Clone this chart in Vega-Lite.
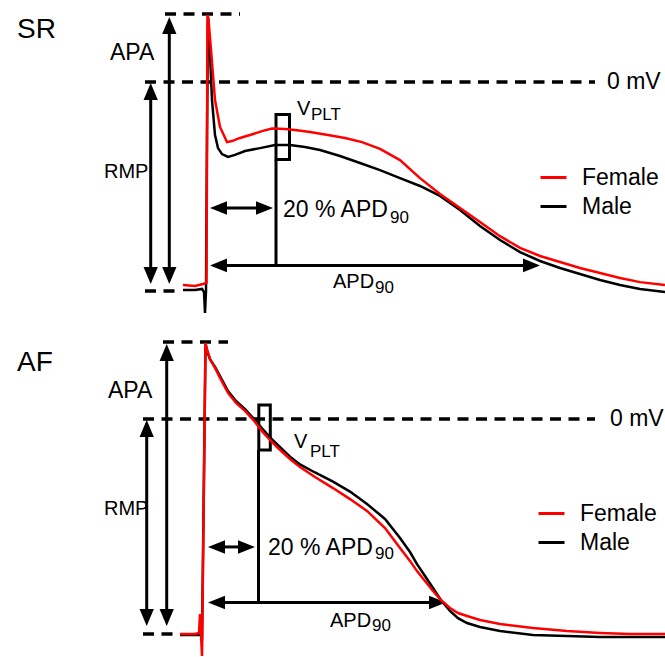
{
  "$schema": "https://vega.github.io/schema/vega-lite/v6.json",
  "padding": 0,
  "spacing": 17,
  "background": "white",
  "config": {
    "view": {"stroke": null},
    "text": {"font": "Liberation Sans", "color": "black"}
  },
  "resolve": {"scale": {"color": "independent"}, "legend": {"color": "independent"}},
  "datasets": {
    "sr_curve": [
      {"sex": "Male", "t": -22, "v": -79.6}, {"sex": "Male", "t": -10, "v": -79.6}, {"sex": "Male", "t": -3, "v": -79.2},
      {"sex": "Male", "t": -1, "v": -80.4}, {"sex": "Male", "t": 0, "v": -88.4}, {"sex": "Male", "t": 1, "v": -80.0},
      {"sex": "Male", "t": 2, "v": -20.0}, {"sex": "Male", "t": 3, "v": 24.9}, {"sex": "Male", "t": 5, "v": 10.7},
      {"sex": "Male", "t": 7, "v": -6.9}, {"sex": "Male", "t": 10, "v": -20.3}, {"sex": "Male", "t": 13, "v": -25.3},
      {"sex": "Male", "t": 17, "v": -27.6}, {"sex": "Male", "t": 23, "v": -28.7}, {"sex": "Male", "t": 30, "v": -27.9},
      {"sex": "Male", "t": 40, "v": -26.4}, {"sex": "Male", "t": 55, "v": -25.3}, {"sex": "Male", "t": 70, "v": -24.1},
      {"sex": "Male", "t": 85, "v": -24.1}, {"sex": "Male", "t": 100, "v": -24.9}, {"sex": "Male", "t": 115, "v": -26.0},
      {"sex": "Male", "t": 135, "v": -28.3}, {"sex": "Male", "t": 155, "v": -31.0}, {"sex": "Male", "t": 175, "v": -33.7},
      {"sex": "Male", "t": 195, "v": -36.8}, {"sex": "Male", "t": 215, "v": -39.8}, {"sex": "Male", "t": 235, "v": -43.6},
      {"sex": "Male", "t": 255, "v": -49.0}, {"sex": "Male", "t": 275, "v": -55.1}, {"sex": "Male", "t": 295, "v": -60.5},
      {"sex": "Male", "t": 315, "v": -65.1}, {"sex": "Male", "t": 335, "v": -68.5}, {"sex": "Male", "t": 355, "v": -71.2},
      {"sex": "Male", "t": 375, "v": -73.5}, {"sex": "Male", "t": 395, "v": -75.8}, {"sex": "Male", "t": 415, "v": -77.7},
      {"sex": "Male", "t": 435, "v": -79.2}, {"sex": "Male", "t": 460, "v": -80.4},
      {"sex": "Female", "t": -22, "v": -77.7}, {"sex": "Female", "t": -10, "v": -78.1}, {"sex": "Female", "t": -2, "v": -77.3},
      {"sex": "Female", "t": 1.5, "v": -76.9}, {"sex": "Female", "t": 2.5, "v": 25.7}, {"sex": "Female", "t": 3.5, "v": 24.0},
      {"sex": "Female", "t": 6, "v": 12.3}, {"sex": "Female", "t": 10, "v": -6.9}, {"sex": "Female", "t": 15, "v": -17.2},
      {"sex": "Female", "t": 22, "v": -23.0}, {"sex": "Female", "t": 27, "v": -22.6}, {"sex": "Female", "t": 35, "v": -21.4},
      {"sex": "Female", "t": 45, "v": -20.3}, {"sex": "Female", "t": 57, "v": -18.8}, {"sex": "Female", "t": 67, "v": -17.8},
      {"sex": "Female", "t": 80, "v": -18.0}, {"sex": "Female", "t": 90, "v": -18.4}, {"sex": "Female", "t": 105, "v": -19.1},
      {"sex": "Female", "t": 123, "v": -20.3}, {"sex": "Female", "t": 140, "v": -21.4}, {"sex": "Female", "t": 157, "v": -23.0},
      {"sex": "Female", "t": 175, "v": -25.6}, {"sex": "Female", "t": 195, "v": -29.9}, {"sex": "Female", "t": 215, "v": -36.8},
      {"sex": "Female", "t": 235, "v": -42.9}, {"sex": "Female", "t": 255, "v": -48.2}, {"sex": "Female", "t": 275, "v": -53.6},
      {"sex": "Female", "t": 295, "v": -59.0}, {"sex": "Female", "t": 315, "v": -63.5}, {"sex": "Female", "t": 335, "v": -66.6},
      {"sex": "Female", "t": 355, "v": -68.9}, {"sex": "Female", "t": 375, "v": -71.2}, {"sex": "Female", "t": 395, "v": -73.1},
      {"sex": "Female", "t": 415, "v": -75.0}, {"sex": "Female", "t": 435, "v": -76.6}, {"sex": "Female", "t": 460, "v": -77.7}
    ],
    "af_curve": [
      {"sex": "Male", "t": -25, "v": -80.4}, {"sex": "Male", "t": -10, "v": -80.4}, {"sex": "Male", "t": -4, "v": -80.4},
      {"sex": "Male", "t": -3, "v": -82.6}, {"sex": "Male", "t": 0.5, "v": 27.9}, {"sex": "Male", "t": 2, "v": 25.3},
      {"sex": "Male", "t": 5, "v": 22.3}, {"sex": "Male", "t": 10, "v": 19.4}, {"sex": "Male", "t": 15, "v": 16.0},
      {"sex": "Male", "t": 23, "v": 10.4}, {"sex": "Male", "t": 31, "v": 6.7}, {"sex": "Male", "t": 40, "v": 3.7},
      {"sex": "Male", "t": 50, "v": -0.4}, {"sex": "Male", "t": 57, "v": -3.5}, {"sex": "Male", "t": 65, "v": -6.8},
      {"sex": "Male", "t": 73, "v": -9.7}, {"sex": "Male", "t": 85, "v": -14.0}, {"sex": "Male", "t": 95, "v": -16.9},
      {"sex": "Male", "t": 110, "v": -19.9}, {"sex": "Male", "t": 128, "v": -23.3}, {"sex": "Male", "t": 145, "v": -27.0},
      {"sex": "Male", "t": 162, "v": -31.6}, {"sex": "Male", "t": 180, "v": -37.2}, {"sex": "Male", "t": 195, "v": -44.3},
      {"sex": "Male", "t": 205, "v": -49.5}, {"sex": "Male", "t": 212, "v": -54.0}, {"sex": "Male", "t": 220, "v": -58.4},
      {"sex": "Male", "t": 228, "v": -62.9}, {"sex": "Male", "t": 236, "v": -67.4}, {"sex": "Male", "t": 245, "v": -71.4},
      {"sex": "Male", "t": 253, "v": -74.1}, {"sex": "Male", "t": 262, "v": -75.9}, {"sex": "Male", "t": 275, "v": -77.4},
      {"sex": "Male", "t": 295, "v": -78.9}, {"sex": "Male", "t": 328, "v": -80.4}, {"sex": "Male", "t": 362, "v": -80.7},
      {"sex": "Male", "t": 395, "v": -81.1}, {"sex": "Male", "t": 460, "v": -81.1},
      {"sex": "Female", "t": -25, "v": -80.0}, {"sex": "Female", "t": -10, "v": -80.0}, {"sex": "Female", "t": -6, "v": -79.6},
      {"sex": "Female", "t": -5, "v": -72.6}, {"sex": "Female", "t": -4, "v": -80.0}, {"sex": "Female", "t": -3, "v": -88.2},
      {"sex": "Female", "t": 0.5, "v": 28.3}, {"sex": "Female", "t": 2, "v": 26.0}, {"sex": "Female", "t": 5, "v": 22.3},
      {"sex": "Female", "t": 10, "v": 19.0}, {"sex": "Female", "t": 15, "v": 15.3}, {"sex": "Female", "t": 23, "v": 9.7},
      {"sex": "Female", "t": 31, "v": 6.0}, {"sex": "Female", "t": 40, "v": 3.0}, {"sex": "Female", "t": 50, "v": -1.1},
      {"sex": "Female", "t": 57, "v": -4.5}, {"sex": "Female", "t": 65, "v": -7.8}, {"sex": "Female", "t": 73, "v": -10.8},
      {"sex": "Female", "t": 85, "v": -14.9}, {"sex": "Female", "t": 95, "v": -17.9}, {"sex": "Female", "t": 110, "v": -21.6},
      {"sex": "Female", "t": 128, "v": -25.7}, {"sex": "Female", "t": 145, "v": -29.8}, {"sex": "Female", "t": 162, "v": -34.2},
      {"sex": "Female", "t": 180, "v": -40.6}, {"sex": "Female", "t": 195, "v": -48.0}, {"sex": "Female", "t": 205, "v": -52.8},
      {"sex": "Female", "t": 212, "v": -56.6}, {"sex": "Female", "t": 220, "v": -60.3}, {"sex": "Female", "t": 228, "v": -64.0},
      {"sex": "Female", "t": 236, "v": -67.4}, {"sex": "Female", "t": 245, "v": -70.3}, {"sex": "Female", "t": 253, "v": -72.2},
      {"sex": "Female", "t": 262, "v": -73.3}, {"sex": "Female", "t": 275, "v": -74.8}, {"sex": "Female", "t": 295, "v": -76.3},
      {"sex": "Female", "t": 328, "v": -77.8}, {"sex": "Female", "t": 362, "v": -78.9}, {"sex": "Female", "t": 395, "v": -79.6},
      {"sex": "Female", "t": 425, "v": -80.0}, {"sex": "Female", "t": 460, "v": -80.0}
    ],
    "sr_dash": [{"t": -40, "t2": 35, "v": 26.0}, {"t": -60, "t2": 390, "v": 0}, {"t": -60, "t2": -25, "v": -80}],
    "af_dash": [{"t": -42, "t2": 23, "v": 28.65}, {"t": -62, "t2": 390, "v": 0}, {"t": -62, "t2": -25, "v": -80}],
    "sr_shaft": [
      {"t": -54.3, "t2": -54.3, "v": -3.5, "v2": -74.2},
      {"t": -35.7, "t2": -35.7, "v": 21.8, "v2": -74.2},
      {"t": 13, "t2": 327, "v": -70.2, "v2": -70.2},
      {"t": 13, "t2": 60, "v": -48.2, "v2": -48.2},
      {"t": 71, "t2": 71, "v": -29.7, "v2": -70.2}
    ],
    "af_shaft": [
      {"t": -58.3, "t2": -58.3, "v": -3.4, "v2": -74.0},
      {"t": -38.3, "t2": -38.3, "v": 24.9, "v2": -74.0},
      {"t": 11, "t2": 233, "v": -68.3, "v2": -68.3},
      {"t": 11, "t2": 42, "v": -47.6, "v2": -47.6},
      {"t": 53.5, "t2": 53.5, "v": -11.5, "v2": -68.3}
    ],
    "sr_head": [
      {"t": -54.3, "v": -0.4, "dir": "up"}, {"t": -54.3, "v": -77.3, "dir": "down"},
      {"t": -35.7, "v": 24.9, "dir": "up"}, {"t": -35.7, "v": -77.3, "dir": "down"},
      {"t": 5, "v": -70.2, "dir": "left"}, {"t": 335, "v": -70.2, "dir": "right"},
      {"t": 5, "v": -48.2, "dir": "left"}, {"t": 68, "v": -48.2, "dir": "right"}
    ],
    "af_head": [
      {"t": -58.3, "v": -0.4, "dir": "up"}, {"t": -58.3, "v": -77.0, "dir": "down"},
      {"t": -38.3, "v": 27.9, "dir": "up"}, {"t": -38.3, "v": -77.0, "dir": "down"},
      {"t": 3, "v": -68.3, "dir": "left"}, {"t": 241, "v": -68.3, "dir": "right"},
      {"t": 3, "v": -47.6, "dir": "left"}, {"t": 50, "v": -47.6, "dir": "right"}
    ],
    "sr_box": [{"t": 71, "t2": 84.5, "v": -12.4, "v2": -29.7}],
    "af_box": [{"t": 53.8, "t2": 65.3, "v": 5.2, "v2": -11.5}],
    "sr_text": [
      {"grp": "title", "label": "SR", "t": -188, "v": 20.1},
      {"grp": "big", "label": "APA", "t": -95, "v": 11.1},
      {"grp": "side", "label": "RMP", "t": -101, "v": -34.4},
      {"grp": "big", "label": "0 mV", "t": 402, "v": 0},
      {"grp": "big", "label": "20 % APD", "t": 78, "v": -49.0},
      {"grp": "side", "label": "V", "t": 92, "v": -10.5},
      {"grp": "side", "label": "APD", "t": 128, "v": -76.7},
      {"grp": "sub", "label": "PLT", "t": 106, "v": -12.8},
      {"grp": "sub", "label": "90", "t": 185, "v": -51.9},
      {"grp": "sub", "label": "90", "t": 170, "v": -79.0}
    ],
    "af_text": [
      {"grp": "title", "label": "AF", "t": -188, "v": 20.7},
      {"grp": "big", "label": "APA", "t": -97, "v": 10.4},
      {"grp": "side", "label": "RMP", "t": -101, "v": -33.5},
      {"grp": "big", "label": "0 mV", "t": 405, "v": 0},
      {"grp": "big", "label": "20 % APD", "t": 63, "v": -48.0},
      {"grp": "side", "label": "V", "t": 89, "v": -8.7},
      {"grp": "side", "label": "APD", "t": 125, "v": -75.2},
      {"grp": "sub", "label": "PLT", "t": 105, "v": -12.3},
      {"grp": "sub", "label": "90", "t": 170, "v": -50.4},
      {"grp": "sub", "label": "90", "t": 167, "v": -77.2}
    ]
  },
  "vconcat": [
    {
      "width": 665,
      "height": 320,
      "encoding": {
        "x": {"field": "t", "type": "quantitative", "scale": {"domain": [-205, 460], "nice": false, "zero": false}, "axis": null},
        "y": {"field": "v", "type": "quantitative", "scale": {"domain": [-91.1, 31.4], "nice": false, "zero": false}, "axis": null}
      },
      "layer": [
        {"data": {"name": "sr_dash"}, "mark": {"type": "rule", "strokeDash": [11, 7.5], "strokeWidth": 3.5, "color": "black"}, "encoding": {"x2": {"field": "t2"}}},
        {"data": {"name": "sr_shaft"}, "mark": {"type": "rule", "strokeWidth": 3, "color": "black"}, "encoding": {"x2": {"field": "t2"}, "y2": {"field": "v2"}}},
        {"data": {"name": "sr_head"}, "mark": {"type": "point", "filled": true, "opacity": 1, "size": 1156, "color": "black", "strokeWidth": 0},
         "encoding": {"shape": {"field": "dir", "type": "nominal", "legend": null,
           "scale": {"domain": ["up", "down", "left", "right"], "range": ["M0,0L-0.42,1L0.42,1Z", "M0,0L-0.42,-1L0.42,-1Z", "M0,0L1,-0.4L1,0.4Z", "M0,0L-1,-0.4L-1,0.4Z"]}}}},
        {"data": {"name": "sr_box"}, "mark": {"type": "rect", "filled": false, "color": "black", "strokeWidth": 3}, "encoding": {"x2": {"field": "t2"}, "y2": {"field": "v2"}}},
        {"data": {"name": "sr_curve"}, "transform": [{"filter": "datum.sex === 'Male'"}], "mark": {"type": "line", "strokeWidth": 2.5},
         "encoding": {"color": {"field": "sex", "type": "nominal", "scale": {"domain": ["Female", "Male"], "range": ["#ff0000", "#000000"]},
           "legend": {"title": null, "orient": "none", "legendX": 539, "legendY": 163, "symbolType": "stroke", "symbolSize": 676, "symbolStrokeWidth": 3, "labelFontSize": 23, "labelFont": "Liberation Sans", "labelColor": "black", "labelOffset": 14, "rowPadding": 2, "padding": 0, "labelLimit": 0}}}},
        {"data": {"name": "sr_curve"}, "transform": [{"filter": "datum.sex === 'Female'"}], "mark": {"type": "line", "strokeWidth": 2.5},
         "encoding": {"color": {"field": "sex", "type": "nominal", "scale": {"domain": ["Female", "Male"], "range": ["#ff0000", "#000000"]},
           "legend": {"title": null, "orient": "none", "legendX": 539, "legendY": 163, "symbolType": "stroke", "symbolSize": 676, "symbolStrokeWidth": 3, "labelFontSize": 23, "labelFont": "Liberation Sans", "labelColor": "black", "labelOffset": 14, "rowPadding": 2, "padding": 0, "labelLimit": 0}}}},
        {"data": {"name": "sr_text"}, "transform": [{"filter": "datum.grp === 'title'"}], "mark": {"type": "text", "align": "left", "baseline": "middle", "fontSize": 28}, "encoding": {"text": {"field": "label"}}},
        {"data": {"name": "sr_text"}, "transform": [{"filter": "datum.grp === 'big'"}], "mark": {"type": "text", "align": "left", "baseline": "middle", "fontSize": 23}, "encoding": {"text": {"field": "label"}}},
        {"data": {"name": "sr_text"}, "transform": [{"filter": "datum.grp === 'side'"}], "mark": {"type": "text", "align": "left", "baseline": "middle", "fontSize": 20}, "encoding": {"text": {"field": "label"}}},
        {"data": {"name": "sr_text"}, "transform": [{"filter": "datum.grp === 'sub'"}], "mark": {"type": "text", "align": "left", "baseline": "middle", "fontSize": 17}, "encoding": {"text": {"field": "label"}}}
      ]
    },
    {
      "width": 665,
      "height": 320,
      "encoding": {
        "x": {"field": "t", "type": "quantitative", "scale": {"domain": [-205, 460], "nice": false, "zero": false}, "axis": null},
        "y": {"field": "v", "type": "quantitative", "scale": {"domain": [-88.93, 30.14], "nice": false, "zero": false}, "axis": null}
      },
      "layer": [
        {"data": {"name": "af_dash"}, "mark": {"type": "rule", "strokeDash": [11, 7.5], "strokeWidth": 3.5, "color": "black"}, "encoding": {"x2": {"field": "t2"}}},
        {"data": {"name": "af_shaft"}, "mark": {"type": "rule", "strokeWidth": 3, "color": "black"}, "encoding": {"x2": {"field": "t2"}, "y2": {"field": "v2"}}},
        {"data": {"name": "af_head"}, "mark": {"type": "point", "filled": true, "opacity": 1, "size": 1156, "color": "black", "strokeWidth": 0},
         "encoding": {"shape": {"field": "dir", "type": "nominal", "legend": null,
           "scale": {"domain": ["up", "down", "left", "right"], "range": ["M0,0L-0.42,1L0.42,1Z", "M0,0L-0.42,-1L0.42,-1Z", "M0,0L1,-0.4L1,0.4Z", "M0,0L-1,-0.4L-1,0.4Z"]}}}},
        {"data": {"name": "af_box"}, "mark": {"type": "rect", "filled": false, "color": "black", "strokeWidth": 3}, "encoding": {"x2": {"field": "t2"}, "y2": {"field": "v2"}}},
        {"data": {"name": "af_curve"}, "transform": [{"filter": "datum.sex === 'Male'"}], "mark": {"type": "line", "strokeWidth": 2.5},
         "encoding": {"color": {"field": "sex", "type": "nominal", "scale": {"domain": ["Female", "Male"], "range": ["#ff0000", "#000000"]},
           "legend": {"title": null, "orient": "none", "legendX": 537, "legendY": 161, "symbolType": "stroke", "symbolSize": 676, "symbolStrokeWidth": 3, "labelFontSize": 23, "labelFont": "Liberation Sans", "labelColor": "black", "labelOffset": 14, "rowPadding": 2, "padding": 0, "labelLimit": 0}}}},
        {"data": {"name": "af_curve"}, "transform": [{"filter": "datum.sex === 'Female'"}], "mark": {"type": "line", "strokeWidth": 2.5},
         "encoding": {"color": {"field": "sex", "type": "nominal", "scale": {"domain": ["Female", "Male"], "range": ["#ff0000", "#000000"]},
           "legend": {"title": null, "orient": "none", "legendX": 537, "legendY": 161, "symbolType": "stroke", "symbolSize": 676, "symbolStrokeWidth": 3, "labelFontSize": 23, "labelFont": "Liberation Sans", "labelColor": "black", "labelOffset": 14, "rowPadding": 2, "padding": 0, "labelLimit": 0}}}},
        {"data": {"name": "af_text"}, "transform": [{"filter": "datum.grp === 'title'"}], "mark": {"type": "text", "align": "left", "baseline": "middle", "fontSize": 28}, "encoding": {"text": {"field": "label"}}},
        {"data": {"name": "af_text"}, "transform": [{"filter": "datum.grp === 'big'"}], "mark": {"type": "text", "align": "left", "baseline": "middle", "fontSize": 23}, "encoding": {"text": {"field": "label"}}},
        {"data": {"name": "af_text"}, "transform": [{"filter": "datum.grp === 'side'"}], "mark": {"type": "text", "align": "left", "baseline": "middle", "fontSize": 20}, "encoding": {"text": {"field": "label"}}},
        {"data": {"name": "af_text"}, "transform": [{"filter": "datum.grp === 'sub'"}], "mark": {"type": "text", "align": "left", "baseline": "middle", "fontSize": 17}, "encoding": {"text": {"field": "label"}}}
      ]
    }
  ]
}
